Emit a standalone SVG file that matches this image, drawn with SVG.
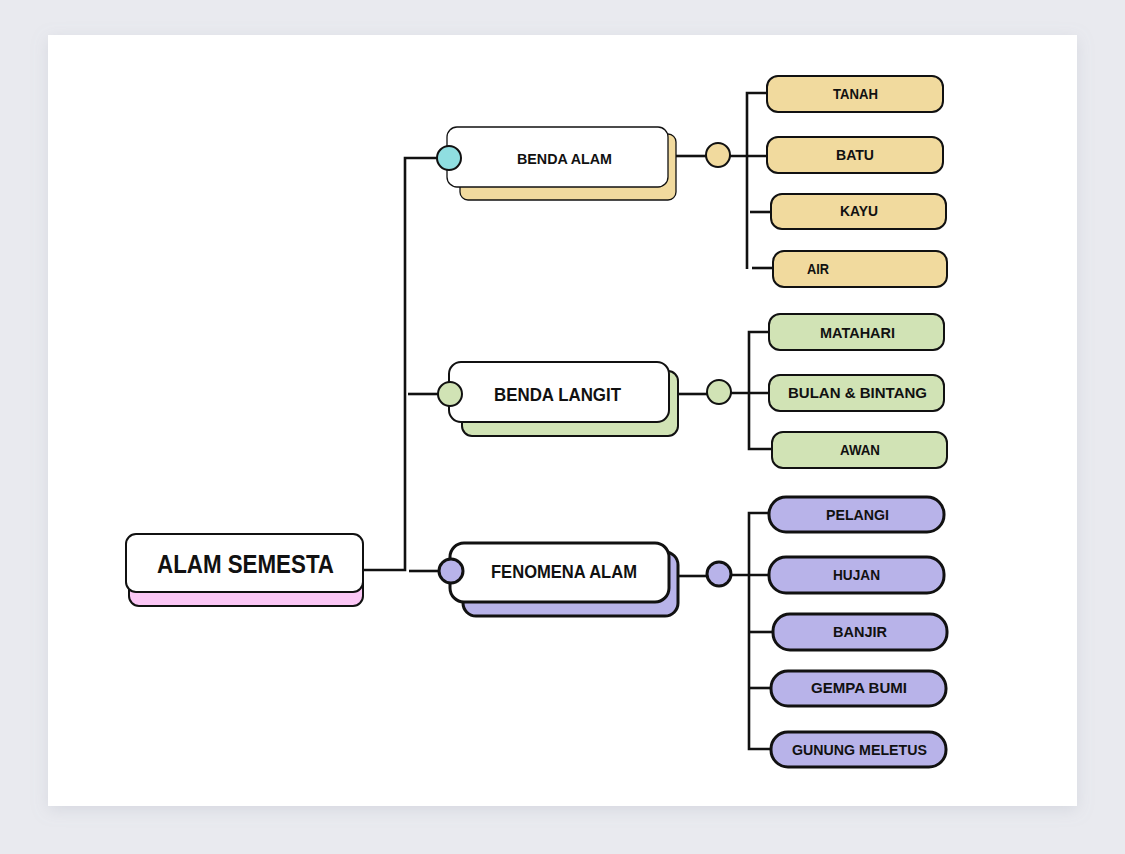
<svg xmlns="http://www.w3.org/2000/svg" width="1125" height="854" viewBox="0 0 1125 854">
<defs>
<filter id="cardShadow" x="-5%" y="-5%" width="110%" height="110%">
<feDropShadow dx="0" dy="4" stdDeviation="8" flood-color="#9aa0b0" flood-opacity="0.25"/>
</filter>
<style>
.ln{fill:none;stroke:#111;stroke-width:2.6;stroke-linecap:butt}
.bx{stroke:#111;stroke-width:2}
.bx3{stroke:#111;stroke-width:3}
.w{fill:#fff}
.y{fill:#f1da9e}
.g{fill:#d1e3b5}
.p{fill:#b8b3e9}
.pk{fill:#fbc7f5}
.c{fill:#8fdee0}
.t{font-family:"Liberation Sans","Open Sans",sans-serif;font-weight:700;fill:#111}
.s{font-size:14px}
.m{font-size:18px}
.l{font-size:26px}
</style>
</defs>
<rect x="0" y="0" width="1125" height="854" fill="#e9eaef"/>
<rect x="48" y="35" width="1029" height="771" fill="#fff" filter="url(#cardShadow)"/>

<g id="connectors">
<path class="ln" d="M363 570 H405 V158 H437"/>
<path class="ln" d="M408 394 H438"/>
<path class="ln" d="M409 571 H440"/>
<path class="ln" d="M676 156 H706"/>
<path class="ln" d="M730 156 H767"/>
<path class="ln" d="M767 93 H747 V269"/>
<path class="ln" d="M750 212 H771"/>
<path class="ln" d="M752 268 H773"/>
<path class="ln" d="M678 394 H707"/>
<path class="ln" d="M731 393 H769"/>
<path class="ln" d="M769 332 H749 V449 H772"/>
<path class="ln" d="M678 576 H707"/>
<path class="ln" d="M731 575 H769"/>
<path class="ln" d="M769 513 H749 V749 H771"/>
<path class="ln" d="M749 632 H773"/>
<path class="ln" d="M749 688 H771"/>
</g>

<g id="root">
<rect class="bx pk" x="129" y="546" width="234" height="60" rx="10"/>
<rect class="bx w" x="126" y="534" width="237" height="58" rx="10"/>
<text class="t l" x="157" y="573" textLength="177" lengthAdjust="spacingAndGlyphs">ALAM SEMESTA</text>
</g>

<g id="benda-alam">
<rect class="y" stroke="#111" stroke-width="1.3" x="460" y="134" width="216" height="66" rx="8"/>
<rect class="w" stroke="#111" stroke-width="1.3" x="447" y="127" width="221" height="60" rx="10"/>
<circle class="bx c" cx="449" cy="158" r="12"/>
<text class="t s" x="517" y="164" textLength="95" lengthAdjust="spacingAndGlyphs">BENDA ALAM</text>
</g>

<g id="benda-langit">
<rect class="bx g" x="462" y="371" width="216" height="65" rx="10"/>
<rect class="bx w" x="449" y="362" width="220" height="60" rx="12"/>
<circle class="bx g" cx="450" cy="394" r="12"/>
<text class="t m" x="494" y="401" textLength="127" lengthAdjust="spacingAndGlyphs">BENDA LANGIT</text>
</g>

<g id="fenomena-alam">
<rect class="bx3 p" x="463" y="552" width="215" height="64" rx="13"/>
<rect class="bx3 w" x="450" y="543" width="219" height="59" rx="14"/>
<circle class="bx3 p" cx="451" cy="571" r="12"/>
<text class="t m" x="491" y="578" textLength="146" lengthAdjust="spacingAndGlyphs">FENOMENA ALAM</text>
</g>

<g id="hub-benda-alam"><circle class="bx y" cx="718" cy="155" r="12"/></g>
<g id="hub-benda-langit"><circle class="bx g" cx="719" cy="392" r="12"/></g>
<g id="hub-fenomena"><circle class="bx3 p" cx="719" cy="574" r="12"/></g>

<g id="tanah"><rect class="bx y" x="767" y="76" width="176" height="36" rx="11"/><text class="t s" x="833" y="99" textLength="45" lengthAdjust="spacingAndGlyphs">TANAH</text></g>
<g id="batu"><rect class="bx y" x="767" y="137" width="176" height="36" rx="11"/><text class="t s" x="836" y="160" textLength="38" lengthAdjust="spacingAndGlyphs">BATU</text></g>
<g id="kayu"><rect class="bx y" x="771" y="194" width="175" height="35" rx="11"/><text class="t s" x="840" y="216" textLength="38" lengthAdjust="spacingAndGlyphs">KAYU</text></g>
<g id="air"><rect class="bx y" x="773" y="251" width="174" height="36" rx="11"/><text class="t s" x="807" y="274" textLength="22" lengthAdjust="spacingAndGlyphs">AIR</text></g>

<g id="matahari"><rect class="bx g" x="769" y="314" width="175" height="36" rx="11"/><text class="t s" x="820" y="338" textLength="75" lengthAdjust="spacingAndGlyphs">MATAHARI</text></g>
<g id="bulan-bintang"><rect class="bx g" x="769" y="375" width="175" height="36" rx="11"/><text class="t s" x="788" y="398" textLength="139" lengthAdjust="spacingAndGlyphs">BULAN &amp; BINTANG</text></g>
<g id="awan"><rect class="bx g" x="772" y="432" width="175" height="36" rx="11"/><text class="t s" x="840" y="455" textLength="40" lengthAdjust="spacingAndGlyphs">AWAN</text></g>

<g id="pelangi"><rect class="bx3 p" x="769" y="497" width="175" height="35" rx="17"/><text class="t s" x="826" y="520" textLength="63" lengthAdjust="spacingAndGlyphs">PELANGI</text></g>
<g id="hujan"><rect class="bx3 p" x="769" y="557" width="175" height="36" rx="17"/><text class="t s" x="833" y="580" textLength="47" lengthAdjust="spacingAndGlyphs">HUJAN</text></g>
<g id="banjir"><rect class="bx3 p" x="773" y="614" width="174" height="36" rx="17"/><text class="t s" x="833" y="637" textLength="54" lengthAdjust="spacingAndGlyphs">BANJIR</text></g>
<g id="gempa-bumi"><rect class="bx3 p" x="771" y="671" width="175" height="35" rx="17"/><text class="t s" x="811" y="693" textLength="96" lengthAdjust="spacingAndGlyphs">GEMPA BUMI</text></g>
<g id="gunung-meletus"><rect class="bx3 p" x="771" y="732" width="175" height="35" rx="17"/><text class="t s" x="792" y="755" textLength="135" lengthAdjust="spacingAndGlyphs">GUNUNG MELETUS</text></g>
</svg>
